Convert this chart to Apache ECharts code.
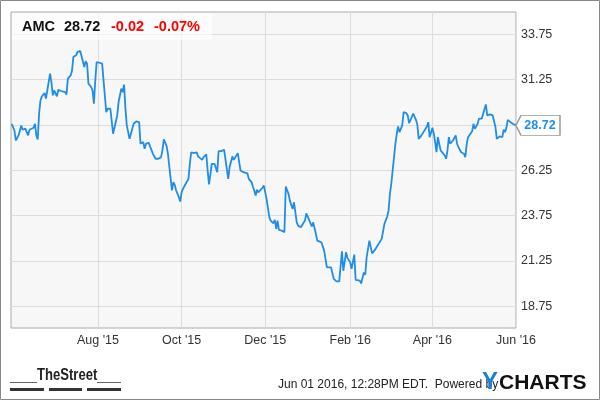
<!DOCTYPE html>
<html><head><meta charset="utf-8">
<script src="https://cdn.jsdelivr.net/npm/echarts@6/dist/echarts.min.js"></script>
<style>html,body{margin:0;padding:0;background:#fff}#c{width:600px;height:400px}</style>
</head><body><div id="c"></div>
<script>
const dates = [
'2015-05-30','2015-06-01','2015-06-02','2015-06-04','2015-06-05','2015-06-06','2015-06-07','2015-06-09','2015-06-10','2015-06-11',
'2015-06-12','2015-06-13','2015-06-15','2015-06-16','2015-06-17','2015-06-18','2015-06-19','2015-06-20','2015-06-21','2015-06-23',
'2015-06-24','2015-06-25','2015-06-27','2015-06-28','2015-06-29','2015-06-30','2015-07-02','2015-07-03','2015-07-04','2015-07-05',
'2015-07-06','2015-07-08','2015-07-09','2015-07-10','2015-07-12','2015-07-13','2015-07-14','2015-07-16','2015-07-17','2015-07-19',
'2015-07-20','2015-07-22','2015-07-23','2015-07-24','2015-07-25','2015-07-27','2015-07-28','2015-07-29','2015-07-30','2015-07-31',
'2015-08-01','2015-08-04','2015-08-07','2015-08-08','2015-08-10','2015-08-12','2015-08-13','2015-08-15','2015-08-16','2015-08-18',
'2015-08-19','2015-08-20','2015-08-21','2015-08-22','2015-08-24','2015-08-26','2015-08-27','2015-08-29','2015-08-31','2015-09-01',
'2015-09-03','2015-09-04','2015-09-05','2015-09-07','2015-09-08','2015-09-10','2015-09-12','2015-09-14','2015-09-16','2015-09-17',
'2015-09-18','2015-09-20','2015-09-21','2015-09-23','2015-09-24','2015-09-25','2015-09-26','2015-09-27','2015-09-29','2015-09-30',
'2015-10-01','2015-10-02','2015-10-04','2015-10-06','2015-10-07','2015-10-08','2015-10-10','2015-10-12','2015-10-13','2015-10-14',
'2015-10-16','2015-10-17','2015-10-19','2015-10-20','2015-10-21','2015-10-23','2015-10-25','2015-10-26','2015-10-27','2015-10-28',
'2015-10-30','2015-11-01','2015-11-02','2015-11-04','2015-11-05','2015-11-07','2015-11-08','2015-11-09','2015-11-11','2015-11-12',
'2015-11-13','2015-11-15','2015-11-16','2015-11-18','2015-11-19','2015-11-20','2015-11-21','2015-11-22','2015-11-23','2015-11-24',
'2015-11-25','2015-11-26','2015-11-27','2015-11-29','2015-11-30','2015-12-01','2015-12-02','2015-12-04','2015-12-05','2015-12-07',
'2015-12-08','2015-12-09','2015-12-10','2015-12-11','2015-12-13','2015-12-15','2015-12-16','2015-12-18','2015-12-19','2015-12-21',
'2015-12-22','2015-12-24','2015-12-25','2015-12-27','2015-12-28','2015-12-30','2015-12-31','2016-01-02','2016-01-04','2016-01-05',
'2016-01-07','2016-01-08','2016-01-09','2016-01-11','2016-01-13','2016-01-14','2016-01-15','2016-01-18','2016-01-19','2016-01-20',
'2016-01-22','2016-01-24','2016-01-25','2016-01-26','2016-01-27','2016-01-29','2016-01-30','2016-02-01','2016-02-02','2016-02-04',
'2016-02-05','2016-02-08','2016-02-09','2016-02-11','2016-02-12','2016-02-13','2016-02-15','2016-02-17','2016-02-19','2016-02-21',
'2016-02-22','2016-02-24','2016-02-25','2016-02-26','2016-02-28','2016-02-29','2016-03-01','2016-03-02','2016-03-04','2016-03-05',
'2016-03-06','2016-03-07','2016-03-08','2016-03-10','2016-03-11','2016-03-13','2016-03-14','2016-03-15','2016-03-16','2016-03-18',
'2016-03-20','2016-03-21','2016-03-22','2016-03-24','2016-03-25','2016-03-28','2016-03-29','2016-03-30','2016-04-01','2016-04-02',
'2016-04-03','2016-04-04','2016-04-05','2016-04-07','2016-04-08','2016-04-10','2016-04-11','2016-04-12','2016-04-13','2016-04-14',
'2016-04-16','2016-04-18','2016-04-19','2016-04-20','2016-04-21','2016-04-22','2016-04-24','2016-04-25','2016-04-26','2016-04-27',
'2016-04-28','2016-04-30','2016-05-01','2016-05-02','2016-05-04','2016-05-05','2016-05-07','2016-05-08','2016-05-10','2016-05-11',
'2016-05-13','2016-05-14','2016-05-15','2016-05-17','2016-05-18','2016-05-20','2016-05-22','2016-05-23','2016-05-24','2016-05-25',
'2016-05-26','2016-05-28','2016-05-30','2016-06-01'
];
const prices = [
28.81,28.44,27.89,28.17,28.07,28.72,28.48,28.54,28.35,28.17,
28.48,28.44,28.59,28.81,28.17,27.95,29.37,30.10,30.32,30.51,
30.20,30.10,31.58,31.11,30.38,30.65,30.32,30.69,30.65,30.62,
30.65,30.56,30.43,31.30,31.48,31.72,32.50,32.59,32.77,32.83,
32.87,31.94,32.27,32.13,31.03,30.84,30.65,29.92,31.21,32.22,
32.20,32.13,29.45,29.64,29.64,28.26,28.35,29.27,30.01,30.75,
30.56,30.97,29.66,28.72,27.98,28.54,28.81,28.94,28.90,27.71,
27.80,27.43,27.71,27.76,27.84,27.16,26.88,26.88,26.97,27.34,
27.95,27.59,27.16,25.77,25.13,25.59,25.44,25.13,24.76,24.52,
25.03,25.22,25.50,25.77,26.60,27.24,27.19,27.24,27.01,27.12,
26.82,26.97,27.12,26.23,25.46,26.60,26.60,26.51,26.14,27.30,
27.30,27.38,27.43,25.77,26.41,27.01,26.82,26.88,27.19,26.69,
26.23,26.14,26.05,26.08,25.77,25.86,25.59,25.35,25.13,24.85,
25.17,25.03,25.13,25.28,25.40,25.46,24.67,23.65,23.47,23.32,
23.51,23.01,23.47,22.95,22.92,22.82,25.35,24.94,24.57,24.11,
24.48,23.37,23.19,23.10,23.01,23.47,23.87,23.51,23.14,23.37,
22.73,22.36,22.27,22.27,21.81,21.35,20.89,20.89,20.85,20.25,
20.11,20.11,20.06,21.77,20.70,21.72,21.41,21.16,20.80,21.59,
20.19,20.15,20.00,20.61,20.48,21.44,22.36,21.66,21.85,22.09,
21.99,22.46,22.40,23.29,23.69,24.02,24.94,25.50,26.97,27.71,
28.26,28.66,28.35,28.72,29.45,29.40,29.27,28.85,28.90,29.37,
29.03,28.77,27.98,28.17,28.26,28.66,28.90,28.07,28.59,28.26,
27.80,27.24,28.07,27.34,27.24,27.06,26.88,27.34,28.07,27.71,
27.89,28.17,27.71,27.52,27.38,27.24,27.16,26.97,27.67,28.07,
28.17,28.40,28.81,28.54,28.81,29.09,29.09,29.18,29.88,29.27,
29.33,29.33,29.27,28.63,27.98,28.11,28.07,28.48,28.35,28.59,
29.03,28.90,28.80,28.72
];
const xTickDates = ['2015-08-01','2015-10-01','2015-12-01','2016-02-01','2016-04-01','2016-06-01'];
const xTickLabels = ["Aug '15","Oct '15","Dec '15","Feb '16","Apr '16","Jun '16"];
const yTicks = [18.75,21.25,23.75,26.25,28.75,31.25,33.75];
const ticker = 'AMC', lastPrice = '28.72', change = '-0.02', changePct = '-0.07%';
const stamp = 'Jun 01 2016, 12:28PM EDT.  Powered by';

const FONT = '"Liberation Sans", Arial, Helvetica, sans-serif';
const P = s => echarts.time.parse(s).getTime();
const xTickTimes = xTickDates.map(P);
const lineColor = '#1e8ee8';
const seriesData = dates.map((d, i) => [P(d), prices[i]]);

const chart = echarts.init(document.getElementById('c'), null, {renderer: 'canvas'});
chart.setOption({
  animation: false,
  backgroundColor: '#fff',
  grid: {left: 11, right: 84, top: 12, bottom: 72, show: true, backgroundColor: '#f7f7f7', borderColor: '#aaa', borderWidth: 1, containLabel: false, outerBoundsMode: 'none'},
  xAxis: {
    type: 'value', scale: true,
    min: P('2015-05-29 12:00'), max: P('2016-06-01'),
    axisLine: {show: false}, axisTick: {show: false, customValues: xTickTimes},
    splitLine: {show: true, lineStyle: {color: '#dcdcdc', width: 1}},
    axisLabel: {
      customValues: xTickTimes, margin: 6, color: '#333', fontFamily: FONT, fontSize: 12.5,
      formatter: v => { let i = xTickTimes.findIndex(t => Math.abs(t - v) < 43200000); return i >= 0 ? xTickLabels[i] : ''; }
    }
  },
  yAxis: {
    type: 'value', position: 'right', min: 17.54, max: 34.98, scale: true,
    axisLine: {show: false}, axisTick: {show: false, customValues: yTicks},
    splitLine: {show: true, lineStyle: {color: '#dcdcdc', width: 1}},
    axisLabel: {customValues: yTicks, margin: 5, color: '#333', fontFamily: FONT, fontSize: 12.5, formatter: v => v.toFixed(2)}
  },
  series: [{
    type: 'line', showSymbol: false, symbol: 'none',
    data: seriesData,
    lineStyle: {color: lineColor, width: 1.8},
    markPoint: {
      symbol: 'path://M0,10L5,0L44,0L44,20L5,20Z', symbolSize: [44, 20], symbolKeepAspect: false, symbolOffset: [22, 0],
      itemStyle: {color: '#fff', borderColor: '#999', borderWidth: 1},
      label: {show: true, position: 'inside', offset: [2, 0], formatter: lastPrice, color: lineColor, fontWeight: 'bold', fontSize: 12.5, fontFamily: FONT},
      data: [{coord: seriesData[seriesData.length - 1]}]
    }
  }],
  graphic: [
    {type: 'rect', shape: {x: 12, y: 13, width: 200, height: 27}, style: {fill: 'rgba(255,255,255,0.6)'}, z: 50, silent: true},
    {type: 'text', x: 22, y: 26.5, z: 51, style: {text: ticker, fill: '#111', font: 'bold 14.5px ' + FONT, verticalAlign: 'middle'}},
    {type: 'text', x: 64, y: 26.5, z: 51, style: {text: lastPrice, fill: '#111', font: 'bold 14.5px ' + FONT, verticalAlign: 'middle'}},
    {type: 'text', x: 111, y: 26.5, z: 51, style: {text: change, fill: '#f00', font: 'bold 14.5px ' + FONT, verticalAlign: 'middle'}},
    {type: 'text', x: 154, y: 26.5, z: 51, style: {text: changePct, fill: '#f00', font: 'bold 14.5px ' + FONT, verticalAlign: 'middle'}},
    {type: 'text', x: 37, y: 375, scaleX: 0.77, z: 51, style: {text: 'TheStreet', fill: '#222', font: 'bold 17px ' + FONT, verticalAlign: 'middle'}},
    {type: 'rect', shape: {x: 10, y: 382, width: 27, height: 1}, style: {fill: '#666'}, z: 51},
    {type: 'rect', shape: {x: 97, y: 382, width: 24, height: 1}, style: {fill: '#666'}, z: 51},
    {type: 'rect', shape: {x: 10, y: 388, width: 34, height: 3}, style: {fill: '#333'}, z: 51},
    {type: 'rect', shape: {x: 49, y: 388, width: 33, height: 3}, style: {fill: '#333'}, z: 51},
    {type: 'rect', shape: {x: 87, y: 388, width: 34, height: 3}, style: {fill: '#333'}, z: 51},
    {type: 'text', x: 278, y: 385, z: 51, style: {text: stamp, fill: '#222', font: '12px ' + FONT, verticalAlign: 'middle'}},
    {type: 'text', x: 482, y: 382, z: 60, style: {text: 'Y', fill: '#1780dd', font: 'bold 24px ' + FONT, verticalAlign: 'middle'}},
    {type: 'text', x: 499, y: 383, z: 60, style: {text: 'CHARTS', fill: '#111', font: 'bold 21px ' + FONT, verticalAlign: 'middle'}},
    {type: 'rect', shape: {x: 0.5, y: 0.5, width: 599, height: 399}, style: {fill: null, stroke: '#888', lineWidth: 1}, z: 100, silent: true}
  ]
});
</script></body></html>
